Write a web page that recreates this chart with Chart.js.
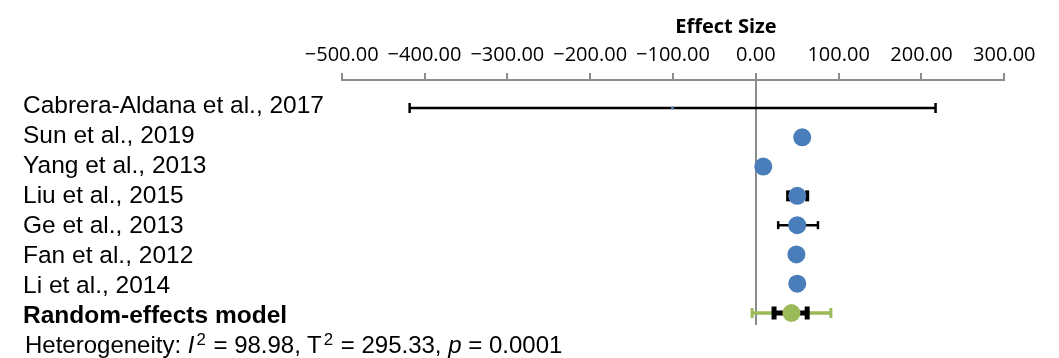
<!DOCTYPE html>
<html>
<head>
<meta charset="utf-8">
<script src="https://cdn.jsdelivr.net/npm/chart.js@4.4.1/dist/chart.umd.min.js"></script>
<style>
  html, body { margin: 0; padding: 0; background: #fff; }
  #wrap { position: relative; width: 1059px; height: 358px; overflow: hidden; }
  #heterogeneity {
    position: absolute; left: 25px; top: 332.5px;
    font: 24px "Liberation Sans", Arial, sans-serif; line-height: 24px;
    color: #000; white-space: nowrap;
  }
  #heterogeneity sup { font-size: 0.7em; line-height: 0; vertical-align: 0.42em; margin: 0 1px 0 2px; }
</style>
</head>
<body>
<div id="wrap">
  <canvas id="forest" width="1059" height="358"></canvas>
  <div id="heterogeneity">Heterogeneity: <i>I</i><sup>2</sup> = 98.98, T<sup>2</sup> = 295.33, <i>p</i> = 0.0001</div>
</div>
<script>
// rows, top to bottom
const rowLabels = [
    'Cabrera-Aldana et al., 2017',
    'Sun et al., 2019',
    'Yang et al., 2013',
    'Liu et al., 2015',
    'Ge et al., 2013',
    'Fan et al., 2012',
    'Li et al., 2014',
    'Random-effects model'
];
const studyEffect = [-100.6, 56, 9, 50, 50, 49, 50];
const studyLower  = [-418, null, null, 39, 27, null, null];
const studyUpper  = [217, null, null, 62, 75, null, null];
const studyMarker = [1.5, 9, 9, 9, 9, 9, 9];   // marker radius (study weight)
const pooledEffect = [43];
const pooledCI = [22, 62];
const pooledPI = [-4.5, 90.6];
const xTicks = [-500, -400, -300, -200, -100, 0, 100, 200, 300];

const BLUE = '#4a7ebb';
const GREEN = '#9bbb59';
const AXIS_GREY = '#8c8c8c';

const pooledRow = rowLabels.length - 1;

function drawBar(ctx, x, lo, hi, yPix, color, lineW, capW, capH) {
    const x1 = x.getPixelForValue(lo);
    const x2 = x.getPixelForValue(hi);
    ctx.strokeStyle = color;
    ctx.fillStyle = color;
    ctx.lineWidth = lineW;
    ctx.beginPath();
    ctx.moveTo(x1, yPix);
    ctx.lineTo(x2, yPix);
    ctx.stroke();
    ctx.fillRect(x1 - capW / 2, yPix - capH / 2, capW, capH);
    ctx.fillRect(x2 - capW / 2, yPix - capH / 2, capW, capH);
}

// error bars go under the markers
const errorBars = {
    id: 'errorBars',
    beforeDatasetsDraw(chart) {
        const { ctx, scales: { x, y } } = chart;
        ctx.save();
        studyLower.forEach((lo, i) => {
            if (lo === null) return;
            const thick = i === 3;
            drawBar(ctx, x, lo, studyUpper[i], y.getPixelForValue(i), '#000',
                2.5, thick ? 4 : 2.5, thick ? 11 : (i === 0 ? 10 : 8));
        });
        const yp = y.getPixelForValue(pooledRow);
        drawBar(ctx, x, pooledPI[0], pooledPI[1], yp, GREEN, 3.5, 3, 10);
        drawBar(ctx, x, pooledCI[0], pooledCI[1], yp, '#000', 5, 5, 13);
        ctx.restore();
    },
    afterDraw(chart) {
        const { ctx } = chart;
        ctx.save();
        ctx.font = 'bold 20px "Open Sans", sans-serif';
        ctx.fillStyle = '#000';
        ctx.textAlign = 'center';
        ctx.textBaseline = 'alphabetic';
        ctx.fillText('Effect Size', 726, 33);
        ctx.restore();
    }
};

new Chart(document.getElementById('forest'), {
    type: 'scatter',
    data: {
        datasets: [{
            data: studyEffect.map((v, i) => ({ x: v, y: i })),
            backgroundColor: BLUE,
            borderColor: BLUE,
            borderWidth: 0,
            pointRadius: studyMarker,
            pointHoverRadius: studyMarker
        }, {
            data: pooledEffect.map(v => ({ x: v, y: pooledRow })),
            backgroundColor: GREEN,
            borderColor: GREEN,
            borderWidth: 0,
            pointRadius: 9,
            pointHoverRadius: 9
        }]
    },
    options: {
        responsive: false,
        animation: false,
        events: [],
        layout: { padding: { left: 23, right: 54.7, top: 0, bottom: 33 } },
        plugins: {
            legend: { display: false },
            tooltip: { enabled: false }
        },
        scales: {
            x: {
                type: 'linear',
                position: 'top',
                min: -500,
                max: 300,
                afterBuildTicks: axis => { axis.ticks = xTicks.map(v => ({ value: v })); },
                afterFit: axis => { axis.height = 80; },
                border: { display: true, color: AXIS_GREY, width: 2 },
                grid: {
                    drawOnChartArea: true,
                    color: ctx => (ctx.tick && ctx.tick.value === 0 ? AXIS_GREY : 'rgba(0,0,0,0)'),
                    lineWidth: 2,
                    tickColor: AXIS_GREY,
                    tickLength: 7,
                    tickWidth: 2
                },
                ticks: {
                    autoSkip: false,
                    maxRotation: 0,
                    padding: 6,
                    color: '#000',
                    font: { family: '"Open Sans", sans-serif', size: 20 },
                    callback: v => (v < 0 ? '\u2212' + Math.abs(v).toFixed(2) : v.toFixed(2))
                }
            },
            // data rows
            y: {
                type: 'linear',
                display: false,
                reverse: true,
                min: -0.956,
                max: 7.41
            },
            // row labels (text box is spaced a little wider than the markers)
            labels: {
                type: 'linear',
                position: 'left',
                reverse: true,
                min: -0.883,
                max: 7.283,
                afterBuildTicks: axis => { axis.ticks = rowLabels.map((_, i) => ({ value: i })); },
                afterFit: axis => { axis.width = 318.7; },
                border: { display: false },
                grid: { display: false },
                ticks: {
                    crossAlign: 'far',
                    padding: 0,
                    color: '#000',
                    font: ctx => ({
                        family: '"Liberation Sans", Arial, sans-serif',
                        size: 24.5,
                        weight: ctx.tick && ctx.tick.value === pooledRow ? 'bold' : 'normal'
                    }),
                    callback: v => rowLabels[v]
                }
            }
        }
    },
    plugins: [errorBars]
});
</script>
</body>
</html>
